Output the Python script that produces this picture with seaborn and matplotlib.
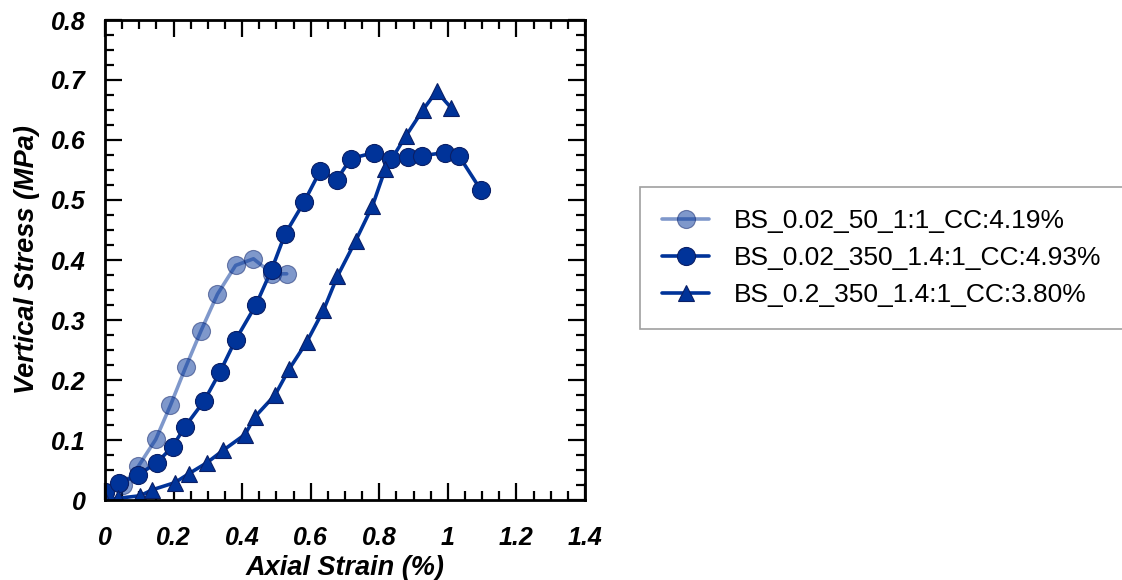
import matplotlib
matplotlib.use("Agg")
import matplotlib.pyplot as plt
from matplotlib.ticker import MultipleLocator, FuncFormatter
import seaborn as sns

# Series: axial strain (%) vs vertical stress (MPa)
labels = [
    "BS_0.02_50_1:1_CC:4.19%",
    "BS_0.02_350_1.4:1_CC:4.93%",
    "BS_0.2_350_1.4:1_CC:3.80%",
]

strain_a = [0.0, 0.053, 0.097, 0.148, 0.191, 0.235, 0.280, 0.328, 0.381, 0.433, 0.488, 0.530]
stress_a = [0.014, 0.025, 0.056, 0.101, 0.158, 0.221, 0.282, 0.343, 0.391, 0.402, 0.377, 0.377]

strain_b = [0.0, 0.042, 0.097, 0.151, 0.197, 0.233, 0.289, 0.335, 0.381, 0.440, 0.486,
            0.525, 0.580, 0.627, 0.676, 0.717, 0.785, 0.834, 0.885, 0.926, 0.992, 1.033, 1.097]
stress_b = [0.014, 0.028, 0.042, 0.062, 0.089, 0.122, 0.165, 0.213, 0.267, 0.325, 0.384,
            0.443, 0.496, 0.548, 0.534, 0.569, 0.579, 0.569, 0.571, 0.574, 0.579, 0.573, 0.516]

strain_c = [0.0, 0.039, 0.102, 0.138, 0.204, 0.245, 0.297, 0.345, 0.408, 0.438, 0.496,
            0.537, 0.588, 0.637, 0.678, 0.731, 0.780, 0.817, 0.878, 0.927, 0.967, 1.009]
stress_c = [0.0, 0.003, 0.007, 0.017, 0.029, 0.044, 0.062, 0.083, 0.109, 0.139, 0.175,
            0.218, 0.263, 0.316, 0.373, 0.432, 0.490, 0.551, 0.607, 0.650, 0.681, 0.654]

sns.set_theme(style="white")
plt.rcParams["font.family"] = ["Liberation Sans", "DejaVu Sans"]
plt.rcParams["text.color"] = "black"

fig = plt.figure(figsize=(11.22, 5.8), dpi=100)
ax = fig.add_axes([105 / 1122, 80 / 580, 480 / 1122, 480 / 580])

blue = "#003399"
edge = "#0a1f66"

sns.lineplot(x=strain_a, y=stress_a, ax=ax, sort=False, estimator=None,
             color=blue, alpha=0.5, linewidth=2.6, marker="o", markersize=13,
             markeredgecolor=edge, markeredgewidth=0.8, label=labels[0])
sns.lineplot(x=strain_b, y=stress_b, ax=ax, sort=False, estimator=None,
             color=blue, linewidth=2.6, marker="o", markersize=13,
             markeredgecolor=edge, markeredgewidth=0.8, label=labels[1])
sns.lineplot(x=strain_c, y=stress_c, ax=ax, sort=False, estimator=None,
             color=blue, linewidth=2.6, marker="^", markersize=11,
             markeredgecolor=edge, markeredgewidth=0.8, label=labels[2])

ax.set_xlim(0, 1.4)
ax.set_ylim(0, 0.8)
ax.xaxis.set_major_locator(MultipleLocator(0.2))
ax.xaxis.set_minor_locator(MultipleLocator(0.05))
ax.yaxis.set_major_locator(MultipleLocator(0.1))
ax.yaxis.set_minor_locator(MultipleLocator(0.025))

fmt = FuncFormatter(lambda v, p: "0" if abs(v) < 1e-9 else f"{v:g}")
ax.xaxis.set_major_formatter(fmt)
ax.yaxis.set_major_formatter(fmt)

ax.tick_params(which="both", direction="in", top=True, right=True,
               bottom=True, left=True, color="black")
ax.tick_params(which="major", length=12, width=1.6)
ax.tick_params(which="minor", length=6.5, width=1.6)
ax.tick_params(axis="x", which="major", pad=19)
ax.tick_params(axis="y", which="major", pad=14)

for lab in ax.get_xticklabels() + ax.get_yticklabels():
    lab.set_fontsize(18)
    lab.set_fontweight("bold")
    lab.set_fontstyle("italic")
    lab.set_color("black")

for s in ax.spines.values():
    s.set_color("black")
    s.set_linewidth(2)

ax.set_xlabel("Axial Strain (%)", fontsize=19.5, fontweight="bold",
              fontstyle="italic", color="black", labelpad=3)
ax.set_ylabel("Vertical Stress (MPa)", fontsize=19.5, fontweight="bold",
              fontstyle="italic", color="black", labelpad=8)

leg = ax.legend(loc="upper left", bbox_to_anchor=(640 / 1122, 1 - 187 / 580),
                bbox_transform=fig.transFigure, fontsize=19, frameon=True,
                fancybox=False, edgecolor="#888888", borderpad=0.85,
                handlelength=1.75, handletextpad=0.95, labelspacing=0.48,
                borderaxespad=0, labelcolor="black")
leg.get_frame().set_linewidth(1.2)

fig.savefig("out.png", dpi=100)
